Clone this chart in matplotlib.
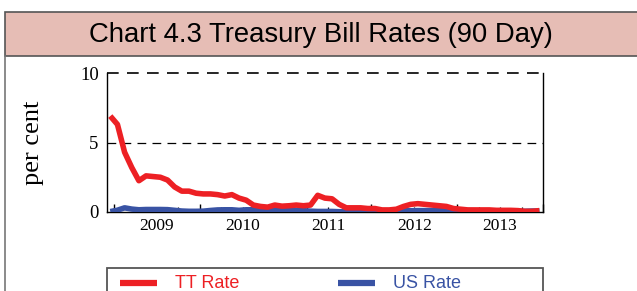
import numpy as np
import matplotlib.pyplot as plt
from matplotlib.patches import Rectangle
from matplotlib.lines import Line2D

# monthly, Dec 2008 .. Dec 2013
tt_rate = [6.9, 6.3, 4.3, 3.2, 2.25, 2.6, 2.55, 2.5, 2.3, 1.8, 1.5, 1.5,
           1.35, 1.3, 1.3, 1.25, 1.15, 1.25, 1.0, 0.85, 0.5, 0.4, 0.35, 0.5,
           0.42, 0.45, 0.5, 0.45, 0.5, 1.2, 1.0, 0.95, 0.55, 0.3, 0.3, 0.3,
           0.25, 0.25, 0.15, 0.15, 0.2, 0.4, 0.55, 0.6, 0.55, 0.5, 0.45, 0.4,
           0.25, 0.2, 0.15, 0.15, 0.15, 0.15, 0.12, 0.12, 0.12, 0.1, 0.05, 0.05,
           0.1]
us_rate = [0.03, 0.13, 0.3, 0.21, 0.16, 0.18, 0.18, 0.18, 0.17, 0.12, 0.07, 0.05,
           0.05, 0.06, 0.11, 0.15, 0.16, 0.16, 0.12, 0.16, 0.16, 0.15, 0.13, 0.14,
           0.14, 0.15, 0.13, 0.1, 0.06, 0.04, 0.04, 0.04, 0.02, 0.01, 0.02, 0.01,
           0.01, 0.03, 0.09, 0.08, 0.08, 0.09, 0.09, 0.1, 0.1, 0.11, 0.1, 0.09,
           0.07, 0.07, 0.1, 0.09, 0.06, 0.04, 0.05, 0.04, 0.04, 0.02, 0.05, 0.07,
           0.07]
years = [2009, 2010, 2011, 2012, 2013]
chart_title = "Chart 4.3 Treasury Bill Rates (90 Day)"

x = 2008 + 11.5 / 12 + np.arange(len(tt_rate)) / 12.0

red = '#ED2024'
blue = '#3953A4'

fig = plt.figure(figsize=(6.37, 2.91), dpi=100)
W, H = 637.0, 291.0

# panel frame and title band
fig.add_artist(Rectangle((5 / W, 1 - 56 / H), 1, 44 / H, transform=fig.transFigure,
                         facecolor='#E6BDB5', edgecolor='#555555', lw=1.2))
fig.add_artist(Line2D([5 / W, 5 / W], [0, 1 - 56 / H], transform=fig.transFigure,
                      color='#777777', lw=1.2))
fig.text(321 / W, 1 - 35 / H, chart_title, ha='center', va='center',
         fontsize=19.8, family='Liberation Sans', color='black')

ax = fig.add_axes([107 / W, 1 - 212 / H, 436 / W, 139 / H])
ax.plot(x, us_rate, color=blue, lw=4.0, solid_capstyle='butt', zorder=3)
ax.plot(x, tt_rate, color=red, lw=4.0, solid_capstyle='butt', zorder=4)

ax.set_xlim(2008.92, 2014.0)
ax.set_ylim(0, 10)
ax.set_yticks([0, 5, 10])
ax.axhline(5, color='black', lw=0.9, dashes=(7, 5), zorder=1)
ax.axhline(10, color='black', lw=1.2, dashes=(7, 5), zorder=1, clip_on=False)
ax.spines['top'].set_visible(False)
for s in ['left', 'bottom', 'right']:
    ax.spines[s].set_linewidth(1.0)

ax.set_xticks(np.arange(2009, 2014.01, 1.0))
ax.set_xticks(np.arange(2009, 2014.01, 0.25), minor=True)
ax.set_xticklabels([])
ax.tick_params(axis='x', which='major', direction='in', length=6, width=1.0)
ax.tick_params(axis='x', which='minor', direction='in', length=3.5, width=0.9)
ax.tick_params(axis='y', length=0, pad=6)
for lab in ax.get_yticklabels():
    lab.set_family('Liberation Serif')
    lab.set_fontsize(13.5)
for yr in years:
    ax.text(yr + 0.5, -0.4, str(yr), transform=ax.transData,
            ha='center', va='top', family='Liberation Serif', fontsize=12.5)

fig.text(33 / W, 1 - 143 / H, 'per cent', rotation=90, ha='center', va='center',
         family='Liberation Serif', fontsize=19)

# legend
fig.add_artist(Rectangle((107 / W, -0.05), 436 / W, (0.05 + 1 - 268 / H),
                         transform=fig.transFigure, facecolor='white',
                         edgecolor='#555555', lw=1.3))
ly = 1 - 283 / H
fig.add_artist(Line2D([120 / W, 157 / W], [ly, ly], transform=fig.transFigure,
                      color=red, lw=4.5, solid_capstyle='butt'))
fig.text(175 / W, ly, 'TT Rate', color=red, va='center', ha='left',
         family='Liberation Sans', fontsize=13)
fig.add_artist(Line2D([338 / W, 375 / W], [ly, ly], transform=fig.transFigure,
                      color=blue, lw=4.5, solid_capstyle='butt'))
fig.text(393 / W, ly, 'US Rate', color=blue, va='center', ha='left',
         family='Liberation Sans', fontsize=13)

fig.savefig('out.png', dpi=100)
